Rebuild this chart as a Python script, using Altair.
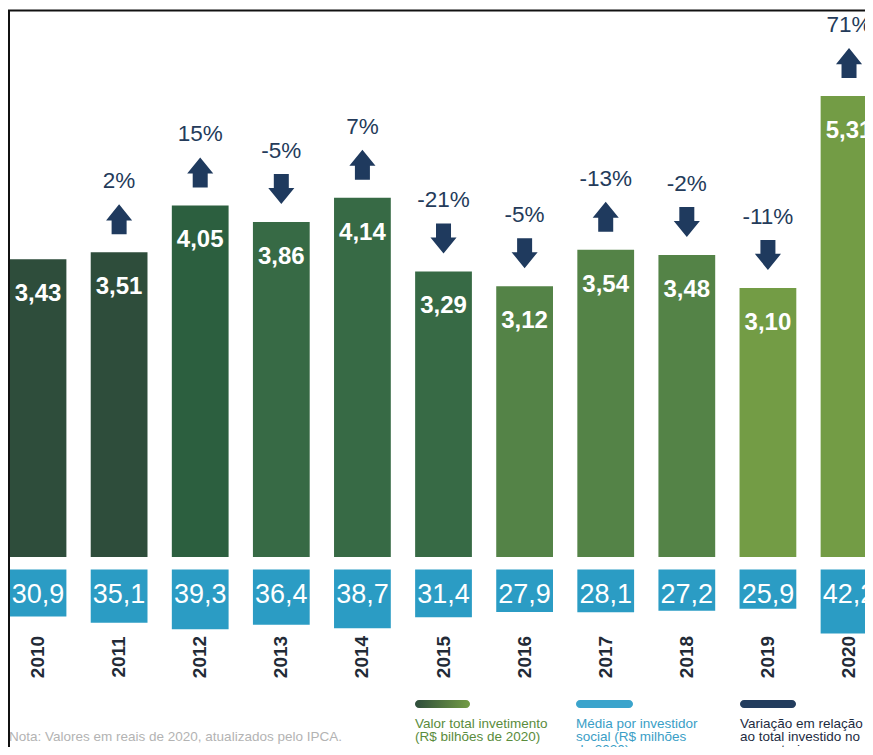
import altair as alt
import pandas as pd

anos = [2010, 2011, 2012, 2013, 2014, 2015, 2016, 2017, 2018, 2019, 2020]
valor_total = [3.43, 3.51, 4.05, 3.86, 4.14, 3.29, 3.12, 3.54, 3.48, 3.10, 5.31]
media_investidor = [30.9, 35.1, 39.3, 36.4, 38.7, 31.4, 27.9, 28.1, 27.2, 25.9, 42.2]
variacao = ["", "2%", "15%", "-5%", "7%", "-21%", "-5%", "-13%", "-2%", "-11%", "71%"]
direcao = ["", "up", "up", "down", "up", "down", "down", "up", "down", "down", "up"]

cores_barras = ["#2e4d3b", "#2e4d3b", "#2c5f3f", "#376a45", "#376a45", "#376a45",
                "#548347", "#548347", "#548347", "#739c45", "#739c45"]

df = pd.DataFrame({
    "ano": anos,
    "valor": valor_total,
    "media": media_investidor,
    "var": variacao,
    "dir": direcao,
})
df["valor_lbl"] = [f"{v:.2f}".replace(".", ",") for v in valor_total]
df["media_lbl"] = [f"{v:.1f}".replace(".", ",") for v in media_investidor]
df["ano_lbl"] = [str(a) for a in anos]

FONT = "Liberation Sans"
NAVY = "#1f3a5e"
BLUE = "#2b9cc4"

W, H = 857, 739

xs = alt.Scale(domain=[2009.63, 2020.197], nice=False, zero=False)
gs = alt.Scale(domain=[-2.189, 6.325], nice=False, zero=False)
bs = alt.Scale(domain=[-369.4, 116.8], nice=False, zero=False, reverse=True)

UP = "M0,-1L0.87,0.07L0.5,0.07L0.5,1L-0.5,1L-0.5,0.07L-0.87,0.07Z"
DOWN = "M0,1L0.87,-0.07L0.5,-0.07L0.5,-1L-0.5,-1L-0.5,-0.07L-0.87,-0.07Z"

base = alt.Chart(df).transform_calculate(
    x0="datum.ano - 0.35", x1="datum.ano + 0.35"
)

green_bars = base.mark_bar().encode(
    x=alt.X("x0:Q", scale=xs, axis=None),
    x2="x1:Q",
    y=alt.Y("valor:Q", scale=gs, axis=None),
    y2=alt.datum(0),
    color=alt.Color("ano:O", scale=alt.Scale(domain=anos, range=cores_barras), legend=None),
)

green_lbl = base.mark_text(font=FONT, fontSize=24, fontWeight="bold", color="white",
                           baseline="alphabetic", dy=42).encode(
    x=alt.X("ano:Q", scale=xs, axis=None),
    y=alt.Y("valor:Q", scale=gs, axis=None),
    text="valor_lbl:N",
)

arrows = base.transform_filter("datum.dir != ''").mark_point(
    filled=True, opacity=1, size=900, color=NAVY, yOffset=-33, strokeWidth=0
).encode(
    x=alt.X("ano:Q", scale=xs, axis=None),
    y=alt.Y("valor:Q", scale=gs, axis=None),
    shape=alt.Shape("dir:N", scale=alt.Scale(domain=["up", "down"], range=[UP, DOWN]), legend=None),
)

pct_lbl = base.transform_filter("datum.var != ''").mark_text(
    font=FONT, fontSize=22.5, color="#243b5a", baseline="alphabetic", dy=-64
).encode(
    x=alt.X("ano:Q", scale=xs, axis=None),
    y=alt.Y("valor:Q", scale=gs, axis=None),
    text="var:N",
)

blue_bars = base.mark_bar(color=BLUE).encode(
    x=alt.X("x0:Q", scale=xs, axis=None),
    x2="x1:Q",
    y=alt.Y("media:Q", scale=bs, axis=None),
    y2=alt.datum(0),
)

blue_lbl = base.mark_text(font=FONT, fontSize=27, color="white", baseline="alphabetic", dy=34).encode(
    x=alt.X("ano:Q", scale=xs, axis=None),
    y=alt.Y(datum=0, scale=bs, axis=None),
    text="media_lbl:N",
)

year_lbl = base.mark_text(font=FONT, fontSize=19, fontWeight="bold", color="#222a36",
                          angle=270, align="center", baseline="middle").encode(
    x=alt.X("ano:Q", scale=xs, axis=None),
    y=alt.value(649),
    text="ano_lbl:N",
)

one = alt.Chart(pd.DataFrame({"k": [0]}))

green_grad = alt.LinearGradient(
    gradient="linear",
    stops=[alt.GradientStop(color="#2e4d3b", offset=0), alt.GradientStop(color="#739c45", offset=1)],
    x1=0, x2=1, y1=0, y2=0,
)
pill_g = one.mark_rect(color=green_grad, cornerRadius=4).encode(
    x=alt.value(407), x2=alt.value(462), y=alt.value(692), y2=alt.value(700))
pill_b = one.mark_rect(color="#3ba4cc", cornerRadius=4).encode(
    x=alt.value(568), x2=alt.value(625), y=alt.value(692), y2=alt.value(700))
pill_n = one.mark_rect(color="#233d5e", cornerRadius=4).encode(
    x=alt.value(732), x2=alt.value(788), y=alt.value(692), y2=alt.value(700))

LEG_FS = 13.5
LEG_LH = 13.2
leg_g = one.mark_text(text=["Valor total invetimento", "(R$  bilhões  de  2020)"], font=FONT, fontSize=LEG_FS,
                      color="#5a8c3c", align="left", baseline="alphabetic", lineHeight=LEG_LH).encode(
    x=alt.value(407), y=alt.value(720))
leg_b = one.mark_text(text=["Média por investidor", "social (R$ milhões", "de 2020)"], font=FONT, fontSize=LEG_FS,
                      color="#3a9ec6", align="left", baseline="alphabetic", lineHeight=LEG_LH).encode(
    x=alt.value(568), y=alt.value(720))
leg_n = one.mark_text(text=["Variação em relação", "ao total investido no", "ano anterior"], font=FONT, fontSize=LEG_FS,
                      color="#1d2b3f", align="left", baseline="alphabetic", lineHeight=LEG_LH).encode(
    x=alt.value(732), y=alt.value(720))

nota = one.mark_text(text="Nota: Valores em reais de 2020, atualizados pelo IPCA.", font=FONT, fontSize=13.5,
                     color="#b3b3b3", align="left", baseline="alphabetic").encode(
    x=alt.value(1), y=alt.value(733))

frame_top = one.mark_rule(color="#111111", strokeWidth=2).encode(
    x=alt.value(0), x2=alt.value(W), y=alt.value(2.5))
frame_left = one.mark_rule(color="#111111", strokeWidth=2).encode(
    x=alt.value(1), y=alt.value(2), y2=alt.value(H))

chart = alt.layer(
    green_bars, green_lbl, arrows, pct_lbl, blue_bars, blue_lbl, year_lbl,
    pill_g, pill_b, pill_n, leg_g, leg_b, leg_n, nota, frame_top, frame_left,
).resolve_scale(
    y="independent", color="independent", shape="independent"
).properties(
    width=W, height=H, padding=0, autosize=alt.AutoSizeParams(type="none"),
    background="white",
).configure_view(strokeWidth=0)

chart.save("out.html", embed_options={"renderer": "svg", "actions": False})
